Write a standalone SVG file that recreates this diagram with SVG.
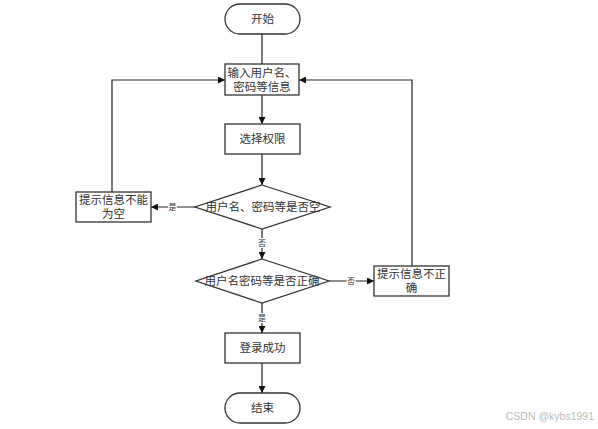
<svg xmlns="http://www.w3.org/2000/svg" width="598" height="429" viewBox="0 0 598 429">
<style>
.n{fill:#fff;stroke:#333;stroke-width:1.3}
.t{font-family:"Liberation Serif","Noto Sans CJK SC",serif;font-size:11.5px;fill:#333;text-anchor:middle}
.l{font-family:"Liberation Serif","Noto Sans CJK SC",serif;font-size:8px;fill:#333;text-anchor:middle}
.c{fill:none;stroke:#222;stroke-width:1.2}
.lb{fill:#fff}
</style>
<defs>
<marker id="a" viewBox="0 0 10 10" refX="10" refY="5" markerWidth="7" markerHeight="7" orient="auto" markerUnits="userSpaceOnUse"><path d="M0,0L10,5L0,10z" fill="#111"/></marker>
</defs>
<rect width="598" height="429" fill="#fff"/>
<g id="connectors">
<path class="c" d="M262,34V64"/>
<path class="c" d="M262,95V124" marker-end="url(#a)"/>
<path class="c" d="M262,154V185" marker-end="url(#a)"/>
<path class="c" d="M195,207H151" marker-end="url(#a)"/>
<path class="c" d="M112,192V80H225" marker-end="url(#a)"/>
<path class="c" d="M262,229V259" marker-end="url(#a)"/>
<path class="c" d="M329,281H374" marker-end="url(#a)"/>
<path class="c" d="M412,266V80H299" marker-end="url(#a)"/>
<path class="c" d="M262,303V333" marker-end="url(#a)"/>
<path class="c" d="M262,363V393" marker-end="url(#a)"/>
<rect class="lb" x="168" y="202" width="9" height="10"/>
<text class="l" x="172.5" y="210">是</text>
<rect class="lb" x="257.5" y="238" width="9" height="10"/>
<text class="l" x="262" y="246">否</text>
<rect class="lb" x="346.5" y="276" width="9" height="10"/>
<text class="l" x="351" y="284">否</text>
<rect class="lb" x="257.5" y="313" width="9" height="10"/>
<text class="l" x="262" y="321">是</text>
</g>
<g id="start"><rect class="n" x="225" y="4" width="75" height="30" rx="15"/><text class="t" x="262.5" y="23">开始</text></g>
<g id="input"><rect class="n" x="225" y="64" width="74" height="31"/><text class="t" x="262" y="77">输入用户名、</text><text class="t" x="262" y="91">密码等信息</text></g>
<g id="role"><rect class="n" x="225" y="124" width="75" height="30"/><text class="t" x="262.5" y="143">选择权限</text></g>
<g id="check-empty"><path class="n" d="M262,185L330,207L262,229L195,207z"/><text class="t" x="263" y="211">用户名、密码等是否空</text></g>
<g id="empty-msg"><rect class="n" x="76" y="192" width="75" height="30"/><text class="t" x="113.5" y="204">提示信息不能</text><text class="t" x="113.5" y="218">为空</text></g>
<g id="check-correct"><path class="n" d="M262,259L329,281L262,303L196,281z"/><text class="t" x="262" y="285">用户名密码等是否正确</text></g>
<g id="wrong-msg"><rect class="n" x="374" y="266" width="75" height="30"/><text class="t" x="411.5" y="278">提示信息不正</text><text class="t" x="411.5" y="292">确</text></g>
<g id="success"><rect class="n" x="225" y="333" width="75" height="30"/><text class="t" x="262.5" y="352">登录成功</text></g>
<g id="end"><rect class="n" x="225" y="393" width="75" height="30" rx="15"/><text class="t" x="262.5" y="412">结束</text></g>
<text x="594" y="420" font-family="Liberation Sans,sans-serif" font-size="10.5" fill="#bbb" text-anchor="end">CSDN @kybs1991</text>
</svg>
